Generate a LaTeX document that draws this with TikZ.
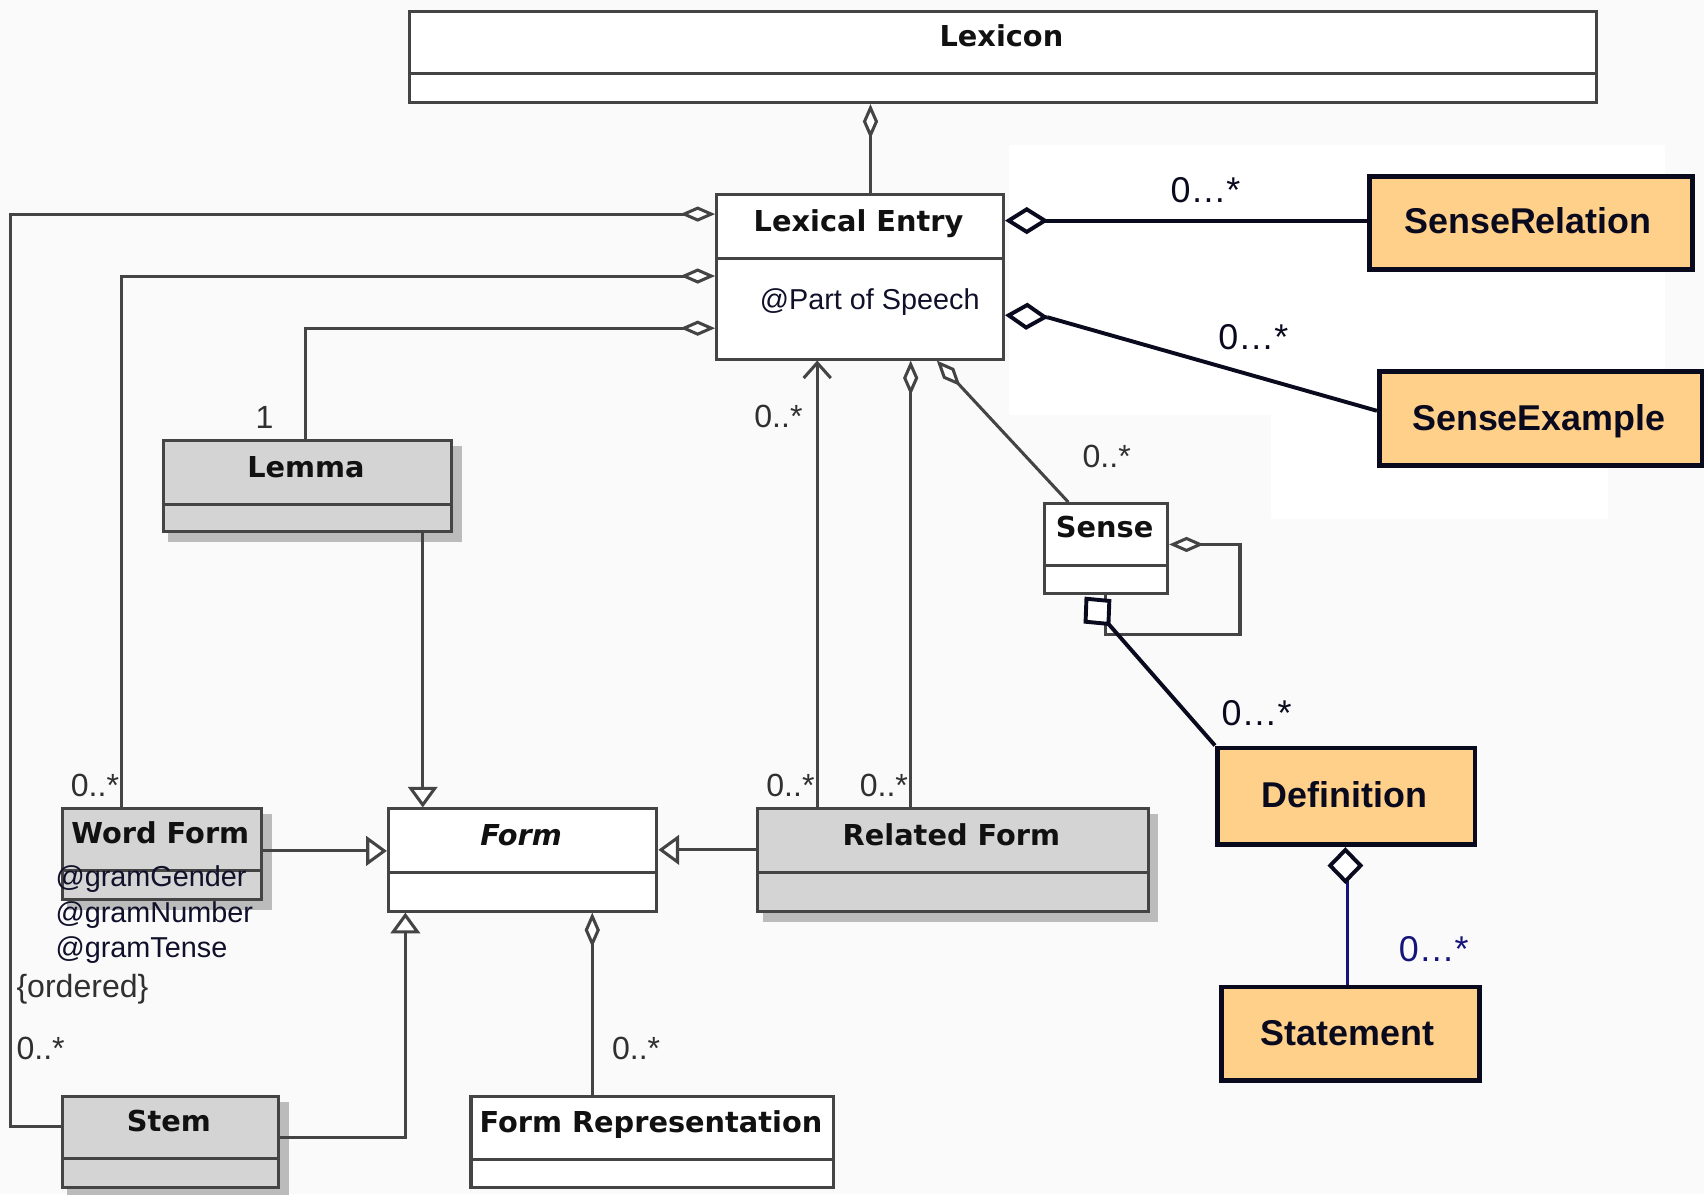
\documentclass[tikz,border=0pt]{standalone}
\usepackage{fontspec}
\setmainfont{Liberation Sans}
\newfontfamily\umlfont{DejaVu Sans}[ItalicFont={DejaVu Sans Oblique},BoldFont={DejaVu Sans Bold},BoldItalicFont={DejaVu Sans Bold Oblique}]
\usetikzlibrary{arrows.meta}
\definecolor{bgcol}{HTML}{FAFAFA}
\definecolor{umlgray}{HTML}{444444}
\definecolor{boxgray}{HTML}{D4D4D4}
\definecolor{shadowgray}{HTML}{BBBBBB}
\definecolor{orangefill}{HTML}{FFD08A}
\definecolor{darkline}{HTML}{0A0A1E}
\definecolor{navyc}{HTML}{14147A}
\definecolor{txt}{HTML}{111111}
\definecolor{attrcol}{HTML}{10102A}
\newcommand\umlclass[8]{%
  \pgfmathsetmacro\ucW{#4-#2}\pgfmathsetmacro\ucH{#5-#3}%
  \node[#7, minimum width=\ucW pt, minimum height=\ucH pt, anchor=north west] (#1) at (#2,#3) {};
  \draw[umlline] (#2,#6) -- (#4,#6);
  \node[umltitle] at ({(#2+#4)/2},{#6-25}) {#8};
}
\newcommand\umlshadow[4]{\fill[shadowgray] ({#1+6},{#2+6}) rectangle ({#3+11},{#4+11});}
\newcommand\orangebox[8]{%
  \pgfmathsetmacro\ucW{#4-#2}\pgfmathsetmacro\ucH{#5-#3}%
  \node[obox, minimum width=\ucW pt, minimum height=\ucH pt, anchor=north west] (#1) at (#2,#3) {};
  \node[otitle] at (#6,#7) {#8};
}
\begin{document}
\begin{tikzpicture}[x=1pt,y=-1pt,
  umlline/.style={draw=umlgray, line width=2.8pt},
  umlwhite/.style={draw=umlgray, line width=2.8pt, fill=white, inner sep=0pt},
  umlshaded/.style={draw=umlgray, line width=2.8pt, fill=boxgray, inner sep=0pt},
  umltitle/.style={font=\umlfont\bfseries\fontsize{26.5}{30}\selectfont, text=txt, anchor=base, inner sep=0pt},
  mult/.style={font=\fontsize{29.5}{33}\selectfont, text=umlgray!70!black, anchor=base west, inner sep=0pt},
  attr/.style={font=\fontsize{26.5}{30}\selectfont, text=attrcol, anchor=base west, inner sep=0pt},
  obox/.style={draw=darkline, line width=4.5pt, fill=orangefill, inner sep=0pt},
  otitle/.style={font=\bfseries\fontsize{33}{38}\selectfont, text=darkline, anchor=base, inner sep=0pt},
  omult/.style={font=\fontsize{33}{38}\selectfont, text=darkline, anchor=base west, inner sep=0pt},
  blackline/.style={draw=darkline, line width=3.6pt},
  agg/.style={-{Diamond[length=32pt,width=14pt,fill=white]}},
  bigagg/.style={-{Diamond[length=40pt,width=25pt,fill=white]}},
  gen/.style={-{Triangle[length=19pt,width=27pt,fill=white]}},
  nav/.style={-{Straight Barb[length=14pt,width=25pt]}}
]
\useasboundingbox (0,0) rectangle (1568,1099);
\fill[bgcol] (0,0) rectangle (1568,1099);
\fill[white] (928,133) rectangle (1532,382);
\fill[white] (1170,382) rectangle (1480,478);

% classes
\umlclass{lexicon}{375}{9}{1468}{93}{68}{umlwhite}{Lexicon}
\umlclass{lexentry}{658}{178}{922}{329}{238}{umlwhite}{Lexical Entry}
\node[attr] (pos) at (699,285) {@Part of Speech};
\umlshadow{149}{404}{414}{488}
\umlclass{lemma}{149}{404}{414}{488}{464}{umlshaded}{Lemma}
\umlshadow{56}{743}{239}{826}
\umlclass{wordform}{56}{743}{239}{826}{801}{umlshaded}{Word Form}
\umlclass{form}{356}{743}{603}{837}{803}{umlwhite}{\itshape Form}
\umlshadow{696}{743}{1055}{837}
\umlclass{relform}{696}{743}{1055}{837}{803}{umlshaded}{Related Form}
\umlshadow{56}{1008}{255}{1091}
\umlclass{stem}{56}{1008}{255}{1091}{1066}{umlshaded}{Stem}
\umlclass{formrep}{432}{1008}{766}{1091}{1067}{umlwhite}{Form Representation}
\umlclass{sense}{960}{462}{1073}{545}{520}{umlwhite}{Sense}

% attributes of Word Form
\node[attr] (gg) at (51,816) {@gramGender};
\node[attr] (gn) at (51,849) {@gramNumber};
\node[attr] (gt) at (51,881) {@gramTense};

% orange boxes
\orangebox{srel}{1258}{160}{1555}{246}{1406}{215}{SenseRelation}
\orangebox{sexample}{1267}{340}{1564}{426}{1416}{396}{SenseExample}
\orangebox{definition}{1118}{686}{1355}{775}{1237}{743}{Definition}
\orangebox{statement}{1122}{906}{1359}{992}{1240}{962}{Statement}

% UML connectors
\draw[umlline, agg] (lexentry.north -| 801,0) -- (lexicon.south -| 801,0);
\draw[umlline, agg] (stem.west |- 0,1037) -- (10,1037) -- (10,197) -- (lexentry.west |- 0,197);
\draw[umlline, agg] (wordform.north -| 112,0) -- (112,254) -- (lexentry.west |- 0,254);
\draw[umlline, agg] (lemma.north -| 281,0) -- (281,302) -- (lexentry.west |- 0,302);
\draw[umlline, gen] (lemma.south -| 389,0) -- (form.north -| 389,0);
\draw[umlline, gen] (wordform.east |- 0,783) -- (form.west |- 0,783);
\draw[umlline, gen] (relform.west |- 0,782) -- (form.east |- 0,782);
\draw[umlline, gen] (stem.east |- 0,1047) -- (373,1047) -- (form.south -| 373,0);
\draw[umlline, agg] (formrep.north -| 545,0) -- (form.south -| 545,0);
\draw[umlline, nav] (relform.north -| 752,0) -- (lexentry.south -| 752,0);
\draw[umlline, agg] (relform.north -| 838,0) -- (lexentry.south -| 838,0);
\draw[umlline, agg] (sense.north -| 983,0) -- (lexentry.south -| 862,0);
\draw[umlline, agg] (sense.south -| 1017,0) -- (1017,584) -- (1141,584) -- (1141,501) -- (sense.east |- 0,501);

% multiplicities (UML)
\node[mult] (m1) at (235,394) {1};
\node[mult] (m2) at (694,393) {0..*};
\node[mult] (m3) at (65,733) {0..*};
\node[mult] (m4) at (705,733) {0..*};
\node[mult] (m5) at (791,733) {0..*};
\node[mult] (m6) at (996,430) {0..*};
\node[mult] (ord) at (15,918) {\{ordered\}};
\node[mult] (m7) at (15,975) {0..*};
\node[mult] (m8) at (563,975) {0..*};

% orange connectors
\draw[blackline, bigagg] (srel.west |- 0,203) -- (lexentry.east |- 0,203);
\coordinate (seback) at (964,292);
\draw[blackline] (sexample.west |- 0,378) -- (seback);
\draw[blackline, bigagg] (seback) -- (lexentry.east |- 0,290);
\coordinate (sensetip) at (998,549);
\draw[blackline, -{Diamond[length=36pt,width=34pt,fill=white]}] (definition.north west) -- (sensetip);
\coordinate (defback) at (1238,812);
\draw[draw=navyc, line width=3pt] (statement.north -| 1240,0) -- (1240,808);
\draw[blackline, -{Diamond[length=34pt,width=33pt,fill=white]}] (defback) -- (definition.south -| 1238,0);

\node[omult] (o1) at (1077,186) {0…*};
\node[omult] (o2) at (1121,322) {0…*};
\node[omult] (o3) at (1124,668) {0…*};
\node[omult, text=navyc] (o4) at (1287,885) {0…*};
\end{tikzpicture}
\end{document}
